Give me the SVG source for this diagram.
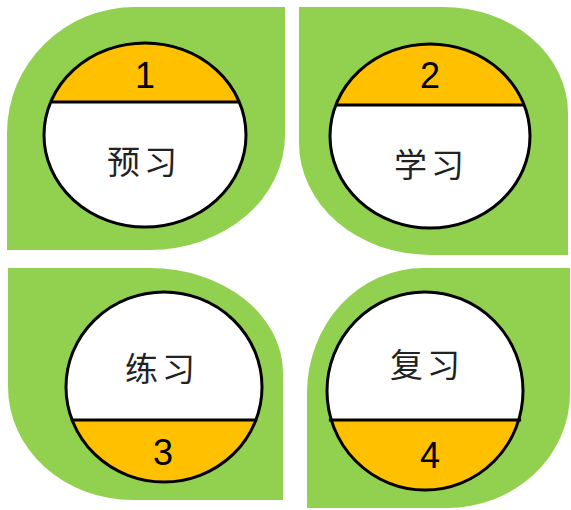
<svg xmlns="http://www.w3.org/2000/svg" width="571" height="510" viewBox="0 0 571 510">
<style>
.leaf{fill:#92D050;stroke:none}
.disc{fill:#FFFFFF}
.band{fill:#FFC000}
.ring{fill:none;stroke:#000;stroke-width:3}
.chord{stroke:#000;stroke-width:3}
.num{font-family:"Liberation Sans",Arial,sans-serif;font-size:36px;fill:#000;text-anchor:middle}
.lbl{font-family:"Noto Sans CJK SC","Noto Sans CJK JP",sans-serif;font-size:33px;fill:#222;text-anchor:middle;letter-spacing:4px}
</style>
<defs>
<clipPath id="c1"><rect x="0" y="0" width="300" height="102"/></clipPath>
<clipPath id="c2"><rect x="290" y="0" width="290" height="105"/></clipPath>
<clipPath id="c3"><rect x="0" y="420" width="300" height="100"/></clipPath>
<clipPath id="c4"><rect x="290" y="420" width="290" height="100"/></clipPath>
</defs>
<rect width="571" height="510" fill="#FFFFFF"/>
<g id="connectors"/>
<g id="node1">
<path class="leaf" d="M135 7 L285 7 L285 135 A135 115 0 0 1 150 250 L7 250 L7 133 A128 126 0 0 1 135 7 Z"/>
<ellipse class="disc" cx="145" cy="135" rx="101" ry="92"/>
<ellipse class="band" cx="145" cy="135" rx="101" ry="92" clip-path="url(#c1)"/>
<line class="chord" x1="50.7" y1="102" x2="239.3" y2="102"/>
<ellipse class="ring" cx="145" cy="135" rx="101" ry="92"/>
<text class="num" x="145" y="88">1</text>
<text class="lbl" x="144" y="174">预习</text>
</g>
<g id="node2">
<path class="leaf" d="M299 7 L443 7 A125 106 0 0 1 568 113 L568 255 L430 255 A131 112 0 0 1 299 143 Z"/>
<ellipse class="disc" cx="430" cy="136" rx="100" ry="92"/>
<ellipse class="band" cx="430" cy="136" rx="100" ry="92" clip-path="url(#c2)"/>
<line class="chord" x1="335.3" y1="105" x2="524.7" y2="105"/>
<ellipse class="ring" cx="430" cy="136" rx="100" ry="92"/>
<text class="num" x="430" y="88">2</text>
<text class="lbl" x="431" y="177">学习</text>
</g>
<g id="node3">
<path class="leaf" d="M8 268 L150 268 A133 105 0 0 1 283 373 L283 500 L133 500 A125 113 0 0 1 8 387 Z"/>
<ellipse class="disc" cx="164" cy="387" rx="98" ry="95"/>
<ellipse class="band" cx="164" cy="387" rx="98" ry="95" clip-path="url(#c3)"/>
<line class="chord" x1="70.8" y1="420" x2="257.2" y2="420"/>
<ellipse class="ring" cx="164" cy="387" rx="98" ry="95"/>
<text class="num" x="163" y="465">3</text>
<text class="lbl" x="162" y="381">练习</text>
</g>
<g id="node4">
<path class="leaf" d="M423 268 L570 268 L570 393 A123 115 0 0 1 447 508 L307 508 L307 393 A116 125 0 0 1 423 268 Z"/>
<ellipse class="disc" cx="425" cy="391" rx="98" ry="99"/>
<ellipse class="band" cx="425" cy="391" rx="98" ry="99" clip-path="url(#c4)"/>
<line class="chord" x1="328.9" y1="420" x2="521.1" y2="420"/>
<ellipse class="ring" cx="425" cy="391" rx="98" ry="99"/>
<text class="num" x="430" y="468">4</text>
<text class="lbl" x="427" y="377">复习</text>
</g>
</svg>
